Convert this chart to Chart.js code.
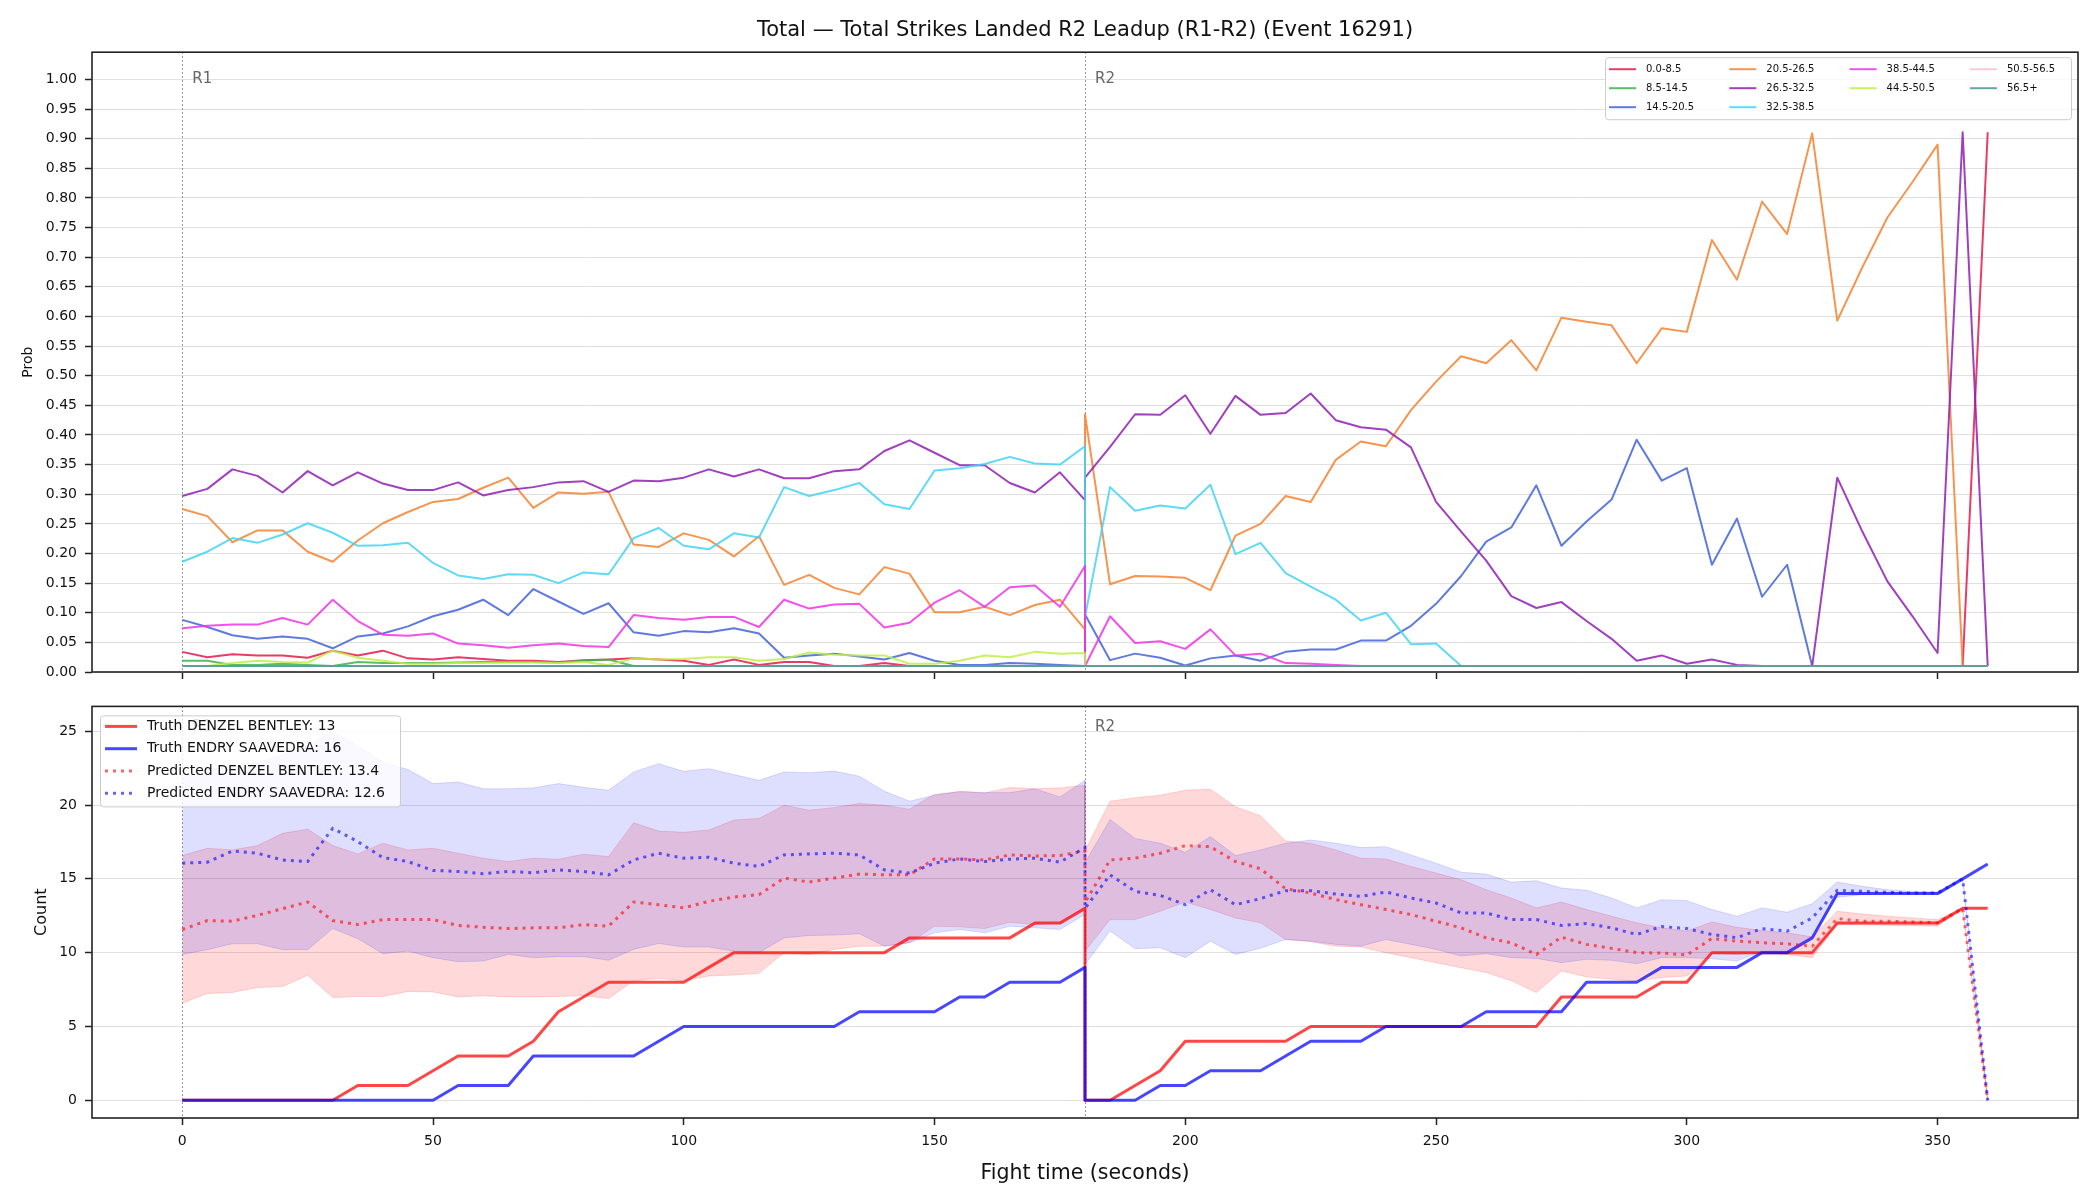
<!DOCTYPE html>
<html>
<head>
<meta charset="utf-8">
<title>Total Strikes Landed R2 Leadup</title>
<script src="https://cdn.jsdelivr.net/npm/chart.js@4.4.1/dist/chart.umd.min.js"></script>
<style>
  html, body { margin: 0; padding: 0; background: #fff; }
  #wrap { position: relative; width: 2100px; height: 1200px; }
  #probChart { position: absolute; left: 0; top: 0; }
  #countChart { position: absolute; left: 0; top: 690px; }
</style>
</head>
<body>
<div id="wrap">
  <canvas id="probChart" width="2100" height="690"></canvas>
  <canvas id="countChart" width="2100" height="510"></canvas>
</div>
<script>
// fight time in seconds: round 1 (0-180) then round 2 (180-360)
const fightTime = [
  0, 5, 10, 15, 20, 25, 30, 35, 40, 45, 50, 55, 60, 65, 70, 75, 80, 85, 90, 95, 100,
  105, 110, 115, 120, 125, 130, 135, 140, 145, 150, 155, 160, 165, 170, 175, 180,
  180, 185, 190, 195, 200, 205, 210, 215, 220, 225, 230, 235, 240, 245, 250, 255, 260, 265, 270, 275,
  280, 285, 290, 295, 300, 305, 310, 315, 320, 325, 330, 335, 340, 345, 350, 355, 360
];

const roundStarts = [0, 180];
const roundNames = ['R1', 'R2'];

const timeTicks = [0, 50, 100, 150, 200, 250, 300, 350];
const probTicks = [0.00, 0.05, 0.10, 0.15, 0.20, 0.25, 0.30, 0.35, 0.40, 0.45, 0.50,
                   0.55, 0.60, 0.65, 0.70, 0.75, 0.80, 0.85, 0.90, 0.95, 1.00];
const countTicks = [0, 5, 10, 15, 20, 25];

const bucketLabels = ['0.0-8.5', '8.5-14.5', '14.5-20.5', '20.5-26.5', '26.5-32.5',
                      '32.5-38.5', '38.5-44.5', '44.5-50.5', '50.5-56.5', '56.5+'];

// probability of each total-strikes bucket
const p0_8 = [
  0.034, 0.025, 0.030, 0.028, 0.028, 0.024, 0.036, 0.028, 0.036, 0.023, 0.021, 0.025, 0.022, 0.019, 0.019, 0.017, 0.020, 0.021, 0.023, 0.021, 0.019,
  0.012, 0.021, 0.012, 0.017, 0.017, 0.010, 0.010, 0.015, 0.010, 0.010, 0.010, 0.010, 0.010, 0.010, 0.010, 0.010,
  0.010, 0.010, 0.010, 0.010, 0.010, 0.010, 0.010, 0.010, 0.010, 0.010,
  0.010, 0.010, 0.010, 0.010, 0.010, 0.010, 0.010, 0.010, 0.010, 0.010,
  0.010, 0.010, 0.010, 0.010, 0.010, 0.010, 0.010, 0.010, 0.010, 0.010,
  0.010, 0.010, 0.010, 0.010, 0.010, 0.010, 0.911
];
const p8_14 = [
  0.019, 0.019, 0.012, 0.012, 0.014, 0.012, 0.010, 0.017, 0.015, 0.015, 0.015, 0.016, 0.017, 0.017, 0.017, 0.016, 0.019, 0.021, 0.010, 0.010, 0.010,
  0.010, 0.010, 0.010, 0.010, 0.010, 0.010, 0.010, 0.010, 0.010, 0.010, 0.010, 0.010, 0.010, 0.010, 0.010, 0.010,
  0.010, 0.010, 0.010, 0.010, 0.010, 0.010, 0.010, 0.010, 0.010, 0.010,
  0.010, 0.010, 0.010, 0.010, 0.010, 0.010, 0.010, 0.010, 0.010, 0.010,
  0.010, 0.010, 0.010, 0.010, 0.010, 0.010, 0.010, 0.010, 0.010, 0.010,
  0.010, 0.010, 0.010, 0.010, 0.010, 0.010, 0.010
];
const p14_20 = [
  0.088, 0.076, 0.062, 0.056, 0.060, 0.056, 0.040, 0.060, 0.065, 0.077, 0.094, 0.105, 0.122, 0.096, 0.140, 0.119, 0.098, 0.116, 0.067, 0.061, 0.069,
  0.067, 0.074, 0.065, 0.024, 0.028, 0.031, 0.026, 0.021, 0.032, 0.019, 0.012, 0.012, 0.015, 0.014, 0.012, 0.010,
  0.097, 0.020, 0.031, 0.024, 0.011, 0.023, 0.028, 0.019, 0.034, 0.038,
  0.038, 0.053, 0.053, 0.078, 0.115, 0.162, 0.220, 0.244, 0.315, 0.213,
  0.254, 0.291, 0.392, 0.323, 0.344, 0.181, 0.259, 0.127, 0.181, 0.010,
  0.010, 0.010, 0.010, 0.010, 0.010, 0.010, 0.010
];
const p20_26 = [
  0.275, 0.263, 0.219, 0.239, 0.239, 0.203, 0.186, 0.222, 0.251, 0.270, 0.287, 0.292, 0.311, 0.328, 0.277, 0.303, 0.301, 0.304, 0.215, 0.211, 0.234,
  0.223, 0.195, 0.229, 0.147, 0.164, 0.142, 0.131, 0.177, 0.166, 0.101, 0.101, 0.110, 0.096, 0.113, 0.122, 0.072,
  0.435, 0.148, 0.162, 0.161, 0.159, 0.138, 0.230, 0.250, 0.297, 0.287,
  0.358, 0.389, 0.381, 0.442, 0.490, 0.533, 0.521, 0.560, 0.509, 0.598,
  0.591, 0.585, 0.521, 0.580, 0.574, 0.729, 0.662, 0.794, 0.739, 0.909,
  0.593, 0.683, 0.767, 0.827, 0.890, 0.010, 0.010
];
const p26_32 = [
  0.297, 0.309, 0.342, 0.331, 0.303, 0.339, 0.315, 0.337, 0.318, 0.307, 0.307, 0.320, 0.298, 0.307, 0.312, 0.320, 0.322, 0.304, 0.323, 0.322, 0.328,
  0.342, 0.330, 0.342, 0.327, 0.327, 0.339, 0.342, 0.373, 0.391, 0.370, 0.349, 0.349, 0.319, 0.303, 0.337, 0.290,
  0.328, 0.380, 0.435, 0.434, 0.467, 0.402, 0.466, 0.434, 0.437, 0.470,
  0.425, 0.413, 0.409, 0.379, 0.287, 0.237, 0.188, 0.128, 0.108, 0.118,
  0.086, 0.056, 0.019, 0.028, 0.014, 0.021, 0.012, 0.010, 0.010, 0.010,
  0.328, 0.237, 0.153, 0.094, 0.032, 0.911, 0.010
];
const p32_38 = [
  0.186, 0.203, 0.226, 0.218, 0.232, 0.251, 0.235, 0.213, 0.214, 0.218, 0.184, 0.163, 0.157, 0.165, 0.164, 0.150, 0.168, 0.165, 0.226, 0.243, 0.213,
  0.207, 0.234, 0.227, 0.312, 0.297, 0.307, 0.319, 0.283, 0.275, 0.340, 0.344, 0.351, 0.363, 0.352, 0.350, 0.381,
  0.093, 0.312, 0.272, 0.281, 0.276, 0.316, 0.199, 0.218, 0.167, 0.144,
  0.122, 0.087, 0.100, 0.047, 0.048, 0.010, 0.010, 0.010, 0.010, 0.010,
  0.010, 0.010, 0.010, 0.010, 0.010, 0.010, 0.010, 0.010, 0.010, 0.010,
  0.010, 0.010, 0.010, 0.010, 0.010, 0.010, 0.010
];
const p38_44 = [
  0.074, 0.078, 0.080, 0.080, 0.091, 0.080, 0.122, 0.086, 0.063, 0.061, 0.065, 0.048, 0.045, 0.041, 0.045, 0.048, 0.044, 0.042, 0.096, 0.091, 0.088,
  0.093, 0.093, 0.076, 0.122, 0.107, 0.114, 0.115, 0.075, 0.083, 0.117, 0.138, 0.110, 0.143, 0.146, 0.110, 0.179,
  0.010, 0.094, 0.049, 0.052, 0.039, 0.072, 0.028, 0.031, 0.015, 0.014,
  0.012, 0.010, 0.010, 0.010, 0.010, 0.010, 0.010, 0.010, 0.010, 0.010,
  0.010, 0.010, 0.010, 0.010, 0.010, 0.010, 0.010, 0.010, 0.010, 0.010,
  0.010, 0.010, 0.010, 0.010, 0.010, 0.010, 0.010
];
const p44_50 = [
  0.010, 0.010, 0.015, 0.019, 0.017, 0.016, 0.036, 0.024, 0.019, 0.014, 0.014, 0.015, 0.015, 0.016, 0.016, 0.015, 0.017, 0.012, 0.023, 0.021, 0.022,
  0.025, 0.025, 0.019, 0.022, 0.033, 0.029, 0.028, 0.028, 0.014, 0.014, 0.019, 0.028, 0.025, 0.034, 0.031, 0.032,
  0.010, 0.010, 0.010, 0.010, 0.010, 0.010, 0.010, 0.010, 0.010, 0.010,
  0.010, 0.010, 0.010, 0.010, 0.010, 0.010, 0.010, 0.010, 0.010, 0.010,
  0.010, 0.010, 0.010, 0.010, 0.010, 0.010, 0.010, 0.010, 0.010, 0.010,
  0.010, 0.010, 0.010, 0.010, 0.010, 0.010, 0.010
];
const p50_56 = [
  0.010, 0.010, 0.010, 0.010, 0.010, 0.010, 0.010, 0.010, 0.010, 0.010, 0.010, 0.010, 0.010, 0.010, 0.010, 0.010, 0.010, 0.010, 0.010, 0.010, 0.010,
  0.010, 0.010, 0.010, 0.010, 0.010, 0.010, 0.010, 0.010, 0.010, 0.010, 0.010, 0.010, 0.010, 0.010, 0.010, 0.010,
  0.010, 0.010, 0.010, 0.010, 0.010, 0.010, 0.010, 0.010, 0.010, 0.010,
  0.010, 0.010, 0.010, 0.010, 0.010, 0.010, 0.010, 0.010, 0.010, 0.010,
  0.010, 0.010, 0.010, 0.010, 0.010, 0.010, 0.010, 0.010, 0.010, 0.010,
  0.010, 0.010, 0.010, 0.010, 0.010, 0.010, 0.010
];
const p56plus = [
  0.010, 0.010, 0.010, 0.010, 0.010, 0.010, 0.010, 0.010, 0.010, 0.010, 0.010, 0.010, 0.010, 0.010, 0.010, 0.010, 0.010, 0.010, 0.010, 0.010, 0.010,
  0.010, 0.010, 0.010, 0.010, 0.010, 0.010, 0.010, 0.010, 0.010, 0.010, 0.010, 0.010, 0.010, 0.010, 0.010, 0.010,
  0.010, 0.010, 0.010, 0.010, 0.010, 0.010, 0.010, 0.010, 0.010, 0.010,
  0.010, 0.010, 0.010, 0.010, 0.010, 0.010, 0.010, 0.010, 0.010, 0.010,
  0.010, 0.010, 0.010, 0.010, 0.010, 0.010, 0.010, 0.010, 0.010, 0.010,
  0.010, 0.010, 0.010, 0.010, 0.010, 0.010, 0.010
];

// strike counts per fighter
const fighters = ['DENZEL BENTLEY', 'ENDRY SAAVEDRA'];
const truthFinal = [13, 16];
const predFinal = [13.4, 12.6];

const truthBentley = [
  0, 0, 0, 0, 0, 0, 0, 1, 1, 1, 2, 3, 3, 3, 4, 6, 7, 8, 8, 8, 8,
  9, 10, 10, 10, 10, 10, 10, 10, 11, 11, 11, 11, 11, 12, 12, 13,
  0, 0, 1, 2, 4, 4, 4, 4, 4, 5,
  5, 5, 5, 5, 5, 5, 5, 5, 5, 7,
  7, 7, 7, 8, 8, 10, 10, 10, 10, 10,
  12, 12, 12, 12, 12, 13, 13
];
const truthSaavedra = [
  0, 0, 0, 0, 0, 0, 0, 0, 0, 0, 0, 1, 1, 1, 3, 3, 3, 3, 3, 4, 5,
  5, 5, 5, 5, 5, 5, 6, 6, 6, 6, 7, 7, 8, 8, 8, 9,
  0, 0, 0, 1, 1, 2, 2, 2, 3, 4,
  4, 4, 5, 5, 5, 5, 6, 6, 6, 6,
  8, 8, 8, 9, 9, 9, 9, 10, 10, 11,
  14, 14, 14, 14, 14, 15, 16
];
const predBentley = [
  11.57, 12.17, 12.13, 12.53, 12.98, 13.43, 12.17, 11.90, 12.24, 12.24, 12.24, 11.84, 11.72, 11.63, 11.68, 11.68, 11.90, 11.79, 13.43, 13.25, 13.03,
  13.48, 13.77, 13.93, 15.05, 14.78, 15.05, 15.32, 15.27, 15.27, 16.35, 16.35, 16.28, 16.62, 16.55, 16.58, 16.89,
  13.40, 16.28, 16.40, 16.73, 17.25, 17.18, 16.17, 15.68, 14.33, 14.04,
  13.59, 13.25, 12.92, 12.58, 12.13, 11.68, 11.00, 10.67, 9.88, 11.05,
  10.56, 10.29, 10.00, 9.97, 9.84, 10.96, 10.78, 10.67, 10.60, 10.44,
  12.31, 12.13, 12.13, 12.08, 12.02, 13.00, 0
];
const predSaavedra = [
  16.06, 16.13, 16.89, 16.73, 16.28, 16.17, 18.42, 17.52, 16.44, 16.17, 15.57, 15.50, 15.34, 15.50, 15.41, 15.61, 15.50, 15.27, 16.28, 16.73, 16.40,
  16.46, 16.06, 15.84, 16.62, 16.69, 16.73, 16.62, 15.61, 15.39, 16.06, 16.35, 16.17, 16.33, 16.40, 16.13, 17.12,
  13.00, 15.27, 14.15, 13.88, 13.25, 14.26, 13.25, 13.66, 14.20, 14.20,
  13.97, 13.81, 14.11, 13.70, 13.36, 12.69, 12.69, 12.24, 12.24, 11.84,
  11.97, 11.68, 11.23, 11.77, 11.63, 11.23, 11.01, 11.63, 11.46, 12.35,
  14.22, 14.15, 14.08, 14.04, 14.04, 15.00, 0
];
const bentleyHigh = [
  16.58, 17.07, 16.96, 17.25, 18.08, 18.37, 17.25, 16.69, 17.41, 16.96, 17.07, 16.73, 16.40, 16.17, 16.40, 16.33, 16.67, 16.51, 18.80, 18.24, 18.15,
  18.31, 18.98, 19.09, 19.99, 19.65, 19.83, 20.10, 19.99, 19.72, 20.73, 20.89, 20.82, 21.18, 21.10, 21.16, 21.34,
  16.90, 20.26, 20.49, 20.66, 21.00, 21.07, 19.88, 19.27, 17.56, 17.41,
  16.96, 16.40, 16.35, 15.84, 15.39, 14.94, 14.26, 13.70, 13.03, 13.43,
  12.92, 12.47, 12.02, 11.68, 11.46, 12.08, 11.72, 11.50, 11.34, 11.07,
  12.80, 12.62, 12.47, 12.35, 12.24, 13.00, 0
];
const bentleyLow = [
  6.58, 7.23, 7.30, 7.64, 7.70, 8.47, 6.96, 7.03, 7.03, 7.37, 7.34, 7.00, 7.08, 7.00, 7.00, 7.03, 7.08, 6.90, 8.09, 8.27, 8.09,
  8.42, 8.49, 8.60, 10.00, 9.88, 10.22, 10.44, 10.44, 10.67, 11.79, 11.75, 11.63, 12.06, 11.90, 11.97, 13.03,
  10.10, 12.24, 12.24, 12.80, 13.43, 12.92, 12.35, 12.02, 10.89, 10.74,
  10.44, 10.38, 10.00, 9.66, 9.32, 8.98, 8.65, 8.09, 7.30, 8.76,
  8.36, 8.20, 8.09, 8.31, 8.42, 9.93, 9.88, 10.00, 9.88, 9.66,
  11.90, 11.90, 11.86, 11.84, 11.79, 13.00, 0
];
const saavedraHigh = [
  21.90, 22.40, 22.60, 22.90, 23.40, 24.00, 25.00, 24.00, 22.90, 22.40, 21.45, 21.56, 21.10, 21.10, 21.16, 21.45, 21.20, 21.00, 22.24, 22.80, 22.28,
  22.46, 22.06, 21.67, 22.24, 22.19, 22.30, 21.95, 20.93, 20.26, 20.66, 20.93, 20.84, 20.84, 21.10, 20.55, 21.67,
  16.10, 19.02, 17.74, 17.41, 16.80, 17.86, 16.58, 16.96, 17.41, 17.63,
  17.41, 17.12, 17.18, 16.62, 16.06, 15.45, 15.32, 14.78, 14.87, 14.38,
  14.22, 13.70, 13.03, 13.59, 13.52, 12.92, 12.47, 13.03, 12.74, 13.32,
  14.78, 14.49, 14.26, 14.15, 14.11, 15.00, 0
];
const saavedraLow = [
  9.88, 10.20, 10.60, 10.60, 10.20, 10.20, 11.63, 10.94, 9.93, 10.10, 9.66, 9.39, 9.43, 9.88, 9.66, 9.73, 9.73, 9.48, 10.22, 10.62, 10.38,
  10.38, 10.10, 10.00, 11.00, 11.16, 11.19, 11.28, 10.44, 10.67, 11.34, 11.57, 11.34, 11.79, 11.68, 11.57, 12.58,
  9.20, 11.46, 10.27, 10.33, 9.66, 10.78, 9.88, 10.29, 10.89, 10.78,
  10.56, 10.44, 10.89, 10.56, 10.22, 9.77, 9.93, 9.66, 9.61, 9.32,
  9.55, 9.48, 9.25, 9.66, 9.66, 9.59, 9.43, 10.10, 10.10, 11.12,
  13.75, 13.93, 13.97, 13.99, 13.99, 15.00, 0
];

const bucketColors = ['#e6194b', '#3cb44b', '#4363d8', '#f58231', '#911eb4',
                      '#42d4f4', '#f032e6', '#bfef45', '#fabed4', '#469990'];

Chart.defaults.font.family = '"DejaVu Sans", "Liberation Sans", sans-serif';
Chart.defaults.color = '#111';

function withAlpha(hex, a) {
  const n = parseInt(hex.slice(1), 16);
  return `rgba(${(n >> 16) & 255}, ${(n >> 8) & 255}, ${n & 255}, ${a})`;
}

function toPoints(values) {
  return fightTime.map((t, i) => ({ x: t, y: values[i] }));
}

// legend drawn inside the plot, filled column by column like matplotlib's ncol
function drawLegend(chart, opts) {
  const { ctx, chartArea: a } = chart;
  const items = chart.data.datasets.filter(d => d.label);
  const x0 = opts.right != null ? a.right - opts.right - opts.width : a.left + opts.left;
  const y0 = a.top + opts.top;
  const slots = [];
  opts.colSizes.forEach((n, col) => {
    for (let row = 0; row < n; row++) slots.push({ col, row });
  });
  ctx.save();
  ctx.beginPath();
  if (ctx.roundRect) ctx.roundRect(x0 + 0.5, y0 + 0.5, opts.width, opts.height, 3);
  else ctx.rect(x0 + 0.5, y0 + 0.5, opts.width, opts.height);
  ctx.fillStyle = 'rgba(255, 255, 255, 0.8)';
  ctx.fill();
  ctx.strokeStyle = '#cccccc';
  ctx.lineWidth = 1;
  ctx.stroke();
  ctx.font = opts.font;
  ctx.textBaseline = 'middle';
  items.forEach((d, i) => {
    const { col, row } = slots[i];
    const cx = x0 + opts.padX + col * opts.colWidth;
    const cy = y0 + opts.padY + row * opts.rowHeight;
    ctx.beginPath();
    ctx.setLineDash(d.borderDash || []);
    ctx.strokeStyle = d.borderColor;
    ctx.lineWidth = d.borderWidth;
    ctx.moveTo(cx, cy);
    ctx.lineTo(cx + opts.sample, cy);
    ctx.stroke();
    ctx.setLineDash([]);
    ctx.fillStyle = '#111';
    ctx.fillText(d.label, cx + opts.textGap, cy);
  });
  ctx.restore();
}

// round dividers, round names, axes frame and legend box
const overlay = {
  id: 'overlay',
  beforeDatasetsDraw(chart) {
    const { ctx, chartArea: a, scales: { x } } = chart;
    ctx.save();
    ctx.strokeStyle = '#777';
    ctx.lineWidth = 1;
    ctx.setLineDash([1.5, 2.5]);
    roundStarts.forEach(t => {
      const px = Math.round(x.getPixelForValue(t)) + 0.5;
      ctx.beginPath();
      ctx.moveTo(px, a.top);
      ctx.lineTo(px, a.bottom);
      ctx.stroke();
    });
    ctx.restore();
  },
  afterDatasetsDraw(chart, args, opts) {
    const { ctx, chartArea: a, scales: { x } } = chart;
    ctx.save();
    ctx.font = '15px "DejaVu Sans"';
    ctx.fillStyle = '#666';
    ctx.textBaseline = 'alphabetic';
    roundStarts.forEach((t, i) => {
      ctx.fillText(roundNames[i], x.getPixelForValue(t) + 10, a.top + 0.032 * (a.bottom - a.top) + 11);
    });
    ctx.strokeStyle = '#222';
    ctx.lineWidth = 1.6;
    ctx.strokeRect(a.left, a.top, a.right - a.left, a.bottom - a.top);
    ctx.restore();
    drawLegend(chart, opts.legend);
  }
};

const xScale = (showLabels, height) => ({
  type: 'linear',
  min: -18,
  max: 378,
  afterBuildTicks: axis => { axis.ticks = timeTicks.map(v => ({ value: v })); },
  afterFit: scale => { scale.height = height; },
  border: { display: false },
  grid: { drawOnChartArea: false, tickLength: 7, tickColor: '#222', tickWidth: 1.5 },
  ticks: {
    font: { size: 14 },
    padding: 8,
    maxRotation: 0,
    callback: v => showLabels ? String(v) : ''
  },
  title: {
    display: showLabels,
    text: 'Fight time (seconds)',
    font: { size: 20.5 },
    padding: { top: 0, bottom: 14 }
  }
});

// top panel: bucket probabilities
const probSeries = [p0_8, p8_14, p14_20, p20_26, p26_32, p32_38, p38_44, p44_50, p50_56, p56plus];

new Chart(document.getElementById('probChart'), {
  type: 'line',
  data: {
    datasets: probSeries.map((vals, i) => ({
      label: bucketLabels[i],
      data: toPoints(vals),
      borderColor: withAlpha(bucketColors[i], 0.85),
      backgroundColor: withAlpha(bucketColors[i], 0.85),
      borderWidth: 2,
      borderJoinStyle: 'round',
      pointRadius: 0,
      fill: false,
      order: probSeries.length - i
    }))
  },
  options: {
    responsive: false,
    animation: false,
    devicePixelRatio: 1,
    layout: { padding: { left: 0, right: 22, top: 0, bottom: 0 } },
    scales: {
      x: xScale(false, 18),
      y: {
        min: 0,
        max: 1.046,
        afterBuildTicks: axis => { axis.ticks = probTicks.map(v => ({ value: v })); },
        afterFit: scale => { scale.width = 92; },
        border: { display: false },
        grid: { color: '#e0e0e0', lineWidth: 1, tickLength: 7, tickColor: '#222', tickWidth: 1.5 },
        ticks: { font: { size: 14 }, padding: 8, callback: v => v.toFixed(2) },
        title: { display: true, text: 'Prob', font: { size: 14 }, padding: { top: 20, bottom: 0 } }
      }
    },
    plugins: {
      legend: { display: false },
      tooltip: { enabled: false },
      title: {
        display: true,
        text: 'Total \u2014 Total Strikes Landed R2 Leadup (R1-R2) (Event 16291)',
        fullSize: false,
        color: '#111',
        font: { size: 21, weight: 'normal' },
        padding: { top: 18, bottom: 9 }
      },
      overlay: {
        legend: {
          right: 7, top: 5, width: 466, height: 62, colSizes: [3, 3, 2, 2],
          colWidth: 120.3, rowHeight: 19, padX: 4, padY: 12,
          sample: 27, textGap: 37, font: '10px "DejaVu Sans"'
        }
      }
    }
  },
  plugins: [overlay]
});

// bottom panel: strike counts, truth vs predicted with bands
new Chart(document.getElementById('countChart'), {
  type: 'line',
  data: {
    datasets: [
      { data: toPoints(bentleyHigh), borderColor: 'rgba(255, 0, 0, 0.15)', backgroundColor: 'rgba(255, 0, 0, 0.15)',
        borderWidth: 1, pointRadius: 0, fill: '+1', order: 20 },
      { data: toPoints(bentleyLow), borderColor: 'rgba(255, 0, 0, 0.15)', borderWidth: 1, pointRadius: 0, fill: false, order: 20 },
      { data: toPoints(saavedraHigh), borderColor: 'rgba(0, 0, 255, 0.13)', backgroundColor: 'rgba(0, 0, 255, 0.13)',
        borderWidth: 1, pointRadius: 0, fill: '+1', order: 19 },
      { data: toPoints(saavedraLow), borderColor: 'rgba(0, 0, 255, 0.13)', borderWidth: 1, pointRadius: 0, fill: false, order: 19 },
      { label: `Truth ${fighters[0]}: ${truthFinal[0]}`, data: toPoints(truthBentley),
        borderColor: 'rgba(255, 0, 0, 0.72)', borderWidth: 3, borderJoinStyle: 'round', pointRadius: 0, fill: false, order: 5 },
      { label: `Truth ${fighters[1]}: ${truthFinal[1]}`, data: toPoints(truthSaavedra),
        borderColor: 'rgba(0, 0, 255, 0.72)', borderWidth: 3, borderJoinStyle: 'round', pointRadius: 0, fill: false, order: 4 },
      { label: `Predicted ${fighters[0]}: ${predFinal[0]}`, data: toPoints(predBentley),
        borderColor: 'rgba(255, 0, 0, 0.6)', borderWidth: 3, borderDash: [3, 5], pointRadius: 0, fill: false, order: 3 },
      { label: `Predicted ${fighters[1]}: ${predFinal[1]}`, data: toPoints(predSaavedra),
        borderColor: 'rgba(0, 0, 255, 0.6)', borderWidth: 3, borderDash: [3, 5], pointRadius: 0, fill: false, order: 2 }
    ]
  },
  options: {
    responsive: false,
    animation: false,
    devicePixelRatio: 1,
    layout: { padding: { left: 0, right: 22, top: 14, bottom: 0 } },
    scales: {
      x: xScale(true, 82),
      y: {
        min: -1.2,
        max: 26.68,
        afterBuildTicks: axis => { axis.ticks = countTicks.map(v => ({ value: v })); },
        afterFit: scale => { scale.width = 92; },
        border: { display: false },
        grid: { color: '#e0e0e0', lineWidth: 1, tickLength: 7, tickColor: '#222', tickWidth: 1.5 },
        ticks: { font: { size: 14 }, padding: 8 },
        title: { display: true, text: 'Count', font: { size: 16 }, padding: { top: 32, bottom: 0 } }
      }
    },
    plugins: {
      legend: { display: false },
      tooltip: { enabled: false },
      overlay: {
        legend: {
          left: 8, top: 9, width: 300, height: 91, colSizes: [4],
          colWidth: 0, rowHeight: 22.3, padX: 5, padY: 11,
          sample: 32, textGap: 42, font: '14px "DejaVu Sans"'
        }
      }
    }
  },
  plugins: [overlay]
});
</script>
</body>
</html>
